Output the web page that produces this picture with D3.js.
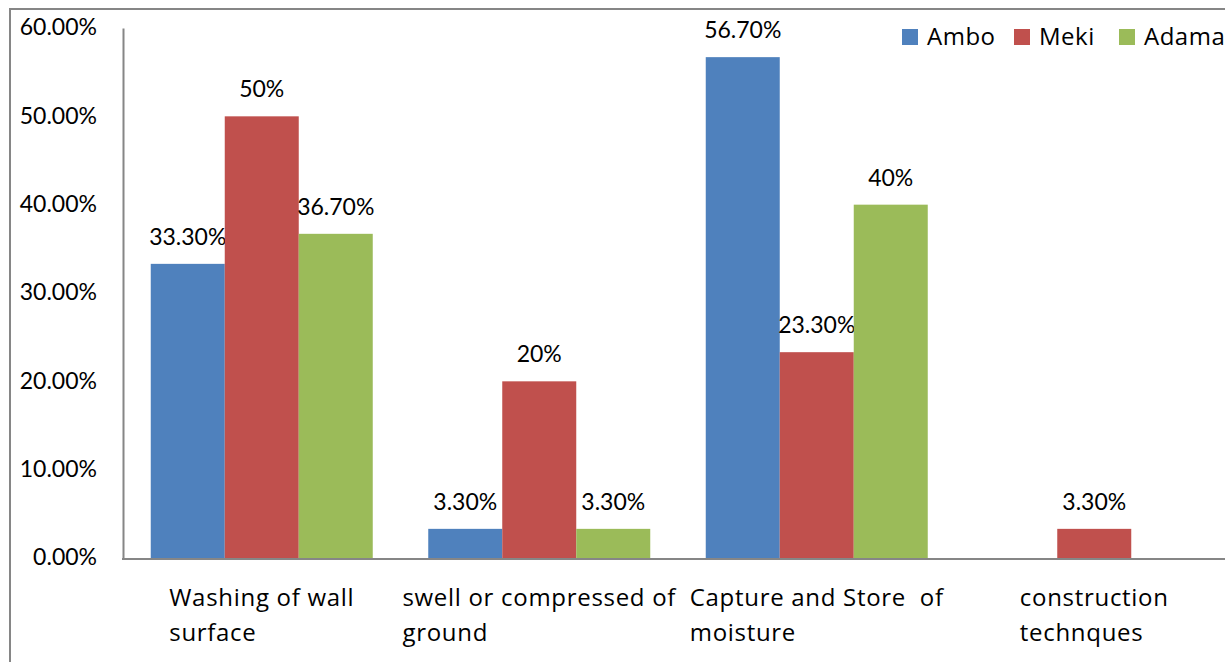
<!DOCTYPE html>
<html>
<head>
<meta charset="utf-8">
<script src="https://cdn.jsdelivr.net/npm/d3@7"></script>
<style>
  html, body { margin: 0; padding: 0; background: #fff; }
  text { font-family: Lato, "Open Sans", sans-serif; fill: #000; }
  .word { font-family: "Open Sans", Lato, sans-serif; white-space: pre; }
</style>
</head>
<body>
<div id="chart"></div>
<script>
// Size of the page
const WIDTH = 1225;
const HEIGHT = 662;

// Data
const categories = [
  ["Washing of wall", "surface"],
  ["swell or compressed of", "ground"],
  ["Capture and Store  of", "moisture"],
  ["construction", "technques"]
];
const series = ["Ambo", "Meki", "Adama"];
const colors = ["#4F81BD", "#C0504D", "#9BBB59"];
const ambo = [33.3, 3.3, 56.7, 0];
const meki = [50, 20, 23.3, 3.3];
const adama = [36.7, 3.3, 40, 0];
const amboLabels = ["33.30%", "3.30%", "56.70%", ""];
const mekiLabels = ["50%", "20%", "23.30%", "3.30%"];
const adamaLabels = ["36.70%", "3.30%", "40%", ""];
const yTicks = [0, 10, 20, 30, 40, 50, 60];

const values = [ambo, meki, adama];
const labels = [amboLabels, mekiLabels, adamaLabels];

// Plot area (right side runs off the page, as in the picture)
const LEFT = 123;
const TOP = 28;
const BOTTOM = 558;
const RIGHT = 1233;

var svg = d3
  .select("#chart")
  .append("svg")
  .attr("width", WIDTH)
  .attr("height", HEIGHT);

// Outer frame
svg
  .append("rect")
  .attr("x", 10)
  .attr("y", 9)
  .attr("width", WIDTH + 20)
  .attr("height", HEIGHT + 20)
  .attr("fill", "none")
  .attr("stroke", "#868686")
  .attr("stroke-width", 2);

const xScale = d3
  .scaleBand()
  .domain(d3.range(categories.length))
  .range([LEFT, RIGHT]);

const xInner = d3
  .scaleBand()
  .domain(series)
  .range([0, xScale.bandwidth()])
  .paddingOuter(0.375);

const yScale = d3.scaleLinear().domain([0, 60]).range([BOTTOM, TOP]);

// Y axis
const yAxis = d3
  .axisLeft(yScale)
  .tickValues(yTicks)
  .tickSize(0)
  .tickPadding(26)
  .tickFormat((d) => d.toFixed(2) + "%");

svg
  .append("g")
  .attr("id", "y-axis")
  .attr("transform", "translate(" + LEFT + ",0)")
  .call(yAxis)
  .call((g) => g.select(".domain").attr("stroke", "#868686").attr("stroke-width", 2))
  .selectAll("text")
  .style("font-size", "23px")
  .attr("dy", "0.3em");

// Bars
series.forEach((s, k) => {
  svg
    .append("g")
    .selectAll("rect")
    .data(values[k])
    .enter()
    .append("rect")
    .attr("x", (d, i) => xScale(i) + xInner(s))
    .attr("y", (d) => yScale(d))
    .attr("width", xInner.bandwidth())
    .attr("height", (d) => BOTTOM - yScale(d))
    .attr("fill", colors[k]);

  svg
    .append("g")
    .selectAll("text")
    .data(values[k])
    .enter()
    .append("text")
    .attr("x", (d, i) => xScale(i) + xInner(s) + xInner.bandwidth() / 2)
    .attr("y", (d) => yScale(d) - 19)
    .attr("text-anchor", "middle")
    .style("font-size", "23px")
    .text((d, i) => labels[k][i]);
});

// X axis line
svg
  .append("line")
  .attr("x1", LEFT - 1)
  .attr("x2", WIDTH)
  .attr("y1", BOTTOM + 1)
  .attr("y2", BOTTOM + 1)
  .attr("stroke", "#868686")
  .attr("stroke-width", 2);

// Category labels: lines left aligned, block centred on the group
categories.forEach((lines, i) => {
  var t = svg
    .append("text")
    .attr("class", "word")
    .attr("y", 606)
    .style("font-size", "24px")
    .style("letter-spacing", "0.7px");
  lines.forEach((line, j) => {
    t.append("tspan")
      .attr("dy", j == 0 ? 0 : 35)
      .text(line);
  });
  var w = d3.max(t.selectAll("tspan").nodes(), (n) => n.getComputedTextLength());
  var x0 = xScale(i) + xScale.bandwidth() / 2 - w / 2;
  t.attr("x", x0);
  t.selectAll("tspan").attr("x", x0);
});

// Legend
const legendX = [902, 1014, 1119];
var legend = svg
  .append("g")
  .selectAll("g")
  .data(series)
  .enter()
  .append("g")
  .attr("transform", (d, i) => "translate(" + legendX[i] + ",29)");

legend
  .append("rect")
  .attr("width", 16)
  .attr("height", 16)
  .attr("fill", (d, i) => colors[i]);

legend
  .append("text")
  .attr("class", "word")
  .attr("x", 25)
  .attr("y", 16)
  .style("font-size", "24px")
  .style("letter-spacing", "0.5px")
  .text((d) => d);
</script>
</body>
</html>
